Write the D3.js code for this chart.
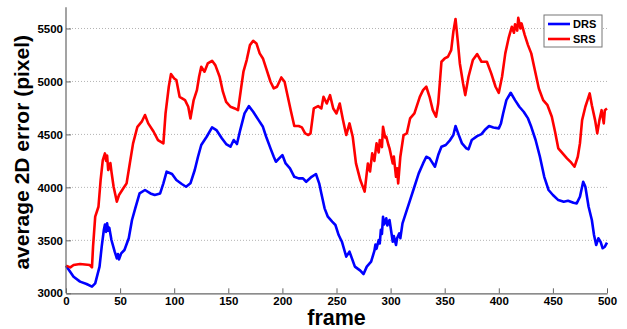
<!DOCTYPE html>
<html>
<head>
<meta charset="utf-8">
<script src="https://cdn.jsdelivr.net/npm/d3@7"></script>
<style>
  body { margin: 0; background: #fff; }
  svg { display: block; font-family: 'Liberation Sans', Arial, sans-serif; }
</style>
</head>
<body>
<svg id="chart"></svg>
<script>
// values: [frame, average 2D error]
const drsSeries = [
  [0,3261],[7,3157],[13,3110],[19,3088],[24,3063],[27,3094],[31,3252],[33,3440],[35,3600],[36,3650],
  [37,3580],[38,3660],[39,3590],[40,3620],[42,3503],[45,3393],[47,3330],[48,3370],[49,3320],[51,3377],
  [54,3409],[58,3519],[61,3692],[64,3802],[68,3943],[73,3975],[78,3943],[82,3928],[87,3943],[90,4038],
  [93,4148],[98,4126],[102,4069],[107,4032],[111,4006],[115,4038],[119,4164],[122,4289],[125,4400],[130,4478],
  [135,4566],[139,4541],[144,4463],[148,4409],[152,4384],[155,4447],[158,4409],[161,4541],[165,4698],[169,4767],
  [173,4714],[178,4635],[182,4572],[185,4478],[189,4368],[192,4289],[194,4242],[197,4274],[200,4305],[203,4226],
  [207,4179],[211,4100],[215,4085],[219,4085],[222,4053],[227,4100],[231,4126],[234,4038],[236,3943],[239,3802],
  [242,3723],[246,3676],[249,3645],[252,3550],[255,3487],[259,3346],[262,3393],[267,3252],[272,3214],[275,3182],
  [278,3252],[282,3299],[285,3400],[286,3460],[287,3420],[289,3503],[290,3470],[291,3600],[292,3560],[293,3723],
  [294,3650],[296,3708],[297,3640],[299,3692],[302,3487],[303,3540],[305,3456],[306,3520],[308,3566],[309,3520],
  [311,3660],[314,3755],[318,3880],[322,4006],[326,4132],[330,4226],[333,4289],[336,4274],[341,4195],[344,4305],
  [347,4384],[351,4400],[355,4447],[358,4494],[360,4579],[363,4494],[366,4415],[370,4368],[372,4359],[375,4447],
  [380,4484],[384,4503],[387,4541],[391,4579],[395,4566],[400,4557],[402,4604],[404,4698],[407,4824],[411,4893],
  [415,4824],[419,4761],[423,4714],[427,4651],[430,4572],[434,4447],[438,4289],[442,4100],[446,3975],[450,3928],
  [455,3880],[460,3865],[464,3874],[469,3855],[472,3849],[475,3912],[478,4053],[480,4006],[483,3817],[486,3692],
  [488,3550],[490,3456],[492,3519],[494,3487],[496,3425],[498,3440],[500,3478]
];

const srsSeries = [
  [0,3261],[4,3245],[7,3267],[13,3277],[22,3267],[24,3245],[25,3440],[27,3723],[30,3817],[32,4069],
  [34,4258],[36,4321],[37,4250],[38,4300],[39,4164],[41,4230],[42,4148],[44,4006],[47,3865],[49,3928],
  [53,3991],[56,4038],[59,4227],[62,4415],[66,4572],[70,4620],[73,4683],[76,4604],[81,4525],[85,4447],
  [90,4415],[92,4698],[95,4950],[97,5069],[100,5028],[102,5013],[105,4855],[110,4824],[113,4761],[115,4651],
  [118,4824],[121,4918],[123,5044],[125,5139],[128,5092],[131,5170],[135,5195],[138,5154],[142,5044],[145,4903],
  [148,4808],[152,4761],[156,4745],[159,4729],[162,4950],[164,5092],[167,5202],[170,5343],[173,5384],[176,5359],
  [179,5265],[182,5217],[185,5123],[189,4997],[192,4934],[195,4950],[199,5038],[202,4997],[205,4855],[208,4714],
  [211,4579],[215,4579],[218,4566],[221,4510],[224,4494],[226,4510],[229,4745],[233,4767],[236,4745],[238,4855],
  [241,4792],[244,4871],[247,4745],[250,4698],[253,4792],[256,4635],[259,4494],[262,4604],[265,4478],[268,4227],
  [272,4069],[276,3960],[279,4226],[281,4150],[283,4321],[285,4250],[287,4415],[289,4330],[290,4447],[292,4380],
  [293,4572],[295,4470],[296,4478],[298,4400],[299,4368],[302,4226],[303,4290],[305,4100],[306,4180],[307,4038],
  [309,4289],[312,4494],[315,4510],[318,4651],[322,4698],[327,4855],[330,4918],[333,4950],[336,4855],[339,4729],
  [342,4667],[344,4792],[347,5186],[350,5217],[353,5233],[356,5296],[358,5469],[360,5590],[362,5390],[364,5170],
  [367,4981],[369,4871],[372,5044],[376,5202],[380,5258],[384,5186],[389,5186],[393,5076],[397,4950],[400,4893],
  [403,5044],[406,5265],[409,5406],[412,5516],[414,5460],[415,5540],[417,5480],[418,5600],[420,5500],[421,5548],
  [424,5438],[427,5343],[430,5265],[433,5123],[437,4934],[441,4824],[445,4776],[449,4667],[452,4525],[455,4368],
  [459,4321],[463,4274],[467,4233],[470,4195],[473,4289],[475,4415],[477,4635],[480,4761],[482,4824],[484,4887],
  [486,4776],[489,4635],[491,4510],[493,4635],[495,4729],[497,4604],[498,4729],[500,4745]
];

const seriesNames = ['DRS', 'SRS'];
const seriesColors = ['#0000ff', '#ff0000'];
const xTicks = d3.range(0, 501, 50);
const yTicks = d3.range(3000, 5501, 500);

const config = {
  width: 627,
  height: 329,
  margin: { left: 66, right: 20, top: 7.3, bottom: 35.7 }
};

function createLineChart(config) {
  const svg = d3.select('#chart')
    .attr('width', config.width)
    .attr('height', config.height);

  const x = d3.scaleLinear()
    .domain([0, 500])
    .range([config.margin.left, config.width - config.margin.right]);
  const y = d3.scaleLinear()
    .domain([3000, 5700])
    .range([config.height - config.margin.bottom, config.margin.top]);

  // dotted grid
  svg.append('g')
    .selectAll('line')
    .data(yTicks.slice(1))
    .enter()
    .append('line')
    .attr('x1', x(0))
    .attr('x2', x(500))
    .attr('y1', d => y(d))
    .attr('y2', d => y(d))
    .style('stroke', '#b4b4b4')
    .style('stroke-width', 1)
    .style('stroke-dasharray', '1,2');

  const line = d3.line()
    .x(d => x(d[0]))
    .y(d => y(d[1]));

  [drsSeries, srsSeries].forEach((s, i) => {
    svg.append('path')
      .datum(s)
      .attr('d', line)
      .style('fill', 'none')
      .style('stroke', seriesColors[i])
      .style('stroke-width', 2.6)
      .style('stroke-linejoin', 'round');
  });

  // axes with inward ticks
  const xAxis = svg.append('g')
    .attr('transform', `translate(0,${y(3000)})`)
    .call(d3.axisBottom(x).tickValues(xTicks).tickFormat(d3.format('d'))
      .tickSizeInner(-5).tickSizeOuter(0).tickPadding(4));
  const yAxis = svg.append('g')
    .attr('transform', `translate(${x(0)},0)`)
    .call(d3.axisLeft(y).tickValues(yTicks).tickFormat(d3.format('d'))
      .tickSizeInner(-5).tickSizeOuter(0).tickPadding(3));

  [xAxis, yAxis].forEach(a => {
    a.select('.domain').attr('stroke', '#666').attr('stroke-width', 1.2);
    a.selectAll('.tick line').attr('stroke', '#666');
    a.selectAll('text')
      .attr('fill', '#000')
      .style('font-size', '11.5px')
      .style('font-weight', 'bold');
  });
  // y axis line runs up to the top of the plot
  yAxis.select('.domain').attr('d', `M0,${y(3000)}V${y(5700)}`);

  svg.append('text')
    .attr('x', (x(0) + x(500)) / 2)
    .attr('y', 325)
    .attr('text-anchor', 'middle')
    .style('font-size', '21.5px')
    .style('font-weight', 'bold')
    .text('frame');

  svg.append('text')
    .attr('transform', `translate(29,${(y(3000) + y(5700)) / 2 + 2}) rotate(-90)`)
    .attr('text-anchor', 'middle')
    .style('font-size', '21px')
    .style('font-weight', 'bold')
    .text('average 2D error (pixel)');

  // legend
  const legend = svg.append('g').attr('transform', 'translate(544,15)');
  legend.append('rect')
    .attr('width', 58)
    .attr('height', 32)
    .style('fill', '#fff')
    .style('stroke', '#777')
    .style('stroke-width', 1);
  seriesNames.forEach((name, i) => {
    const row = legend.append('g').attr('transform', `translate(0,${9 + i * 15})`);
    row.append('line')
      .attr('x1', 4).attr('x2', 26)
      .style('stroke', seriesColors[i])
      .style('stroke-width', 2.6);
    row.append('text')
      .attr('x', 29)
      .attr('dy', '0.36em')
      .style('font-size', '11px')
      .style('font-weight', 'bold')
      .text(name);
  });
}

createLineChart(config);
</script>
</body>
</html>
